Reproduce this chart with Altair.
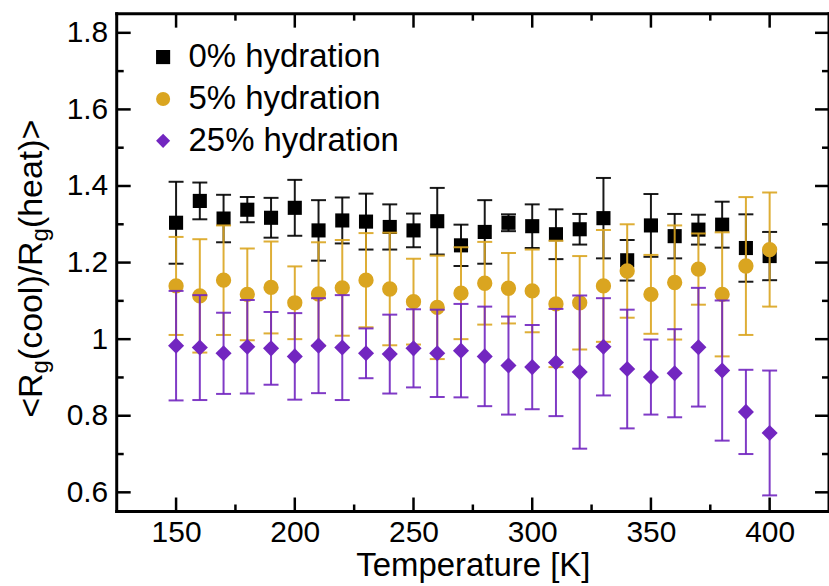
import altair as alt
import pandas as pd

# ---------------- data ----------------
temps = [150, 160, 170, 180, 190, 200, 210, 220, 230, 240, 250, 260, 270,
         280, 290, 300, 310, 320, 330, 340, 350, 360, 370, 380, 390, 400]

h0_mean = [1.304, 1.361, 1.315, 1.338, 1.317, 1.343, 1.284, 1.310, 1.307, 1.293,
           1.284, 1.308, 1.245, 1.280, 1.304, 1.295, 1.274, 1.287, 1.316, 1.206,
           1.297, 1.269, 1.286, 1.299, 1.238, 1.217]
h0_err = [0.107, 0.048, 0.062, 0.033, 0.052, 0.073, 0.079, 0.060, 0.073, 0.059,
          0.044, 0.087, 0.054, 0.083, 0.022, 0.057, 0.065, 0.040, 0.105, 0.053,
          0.082, 0.058, 0.039, 0.060, 0.088, 0.063]

h5_mean = [1.139, 1.113, 1.154, 1.117, 1.135, 1.095, 1.118, 1.134, 1.154, 1.131,
           1.098, 1.083, 1.120, 1.146, 1.133, 1.126, 1.092, 1.095, 1.139, 1.178,
           1.117, 1.148, 1.183, 1.117, 1.191, 1.234]
h5_err = [0.128, 0.148, 0.143, 0.120, 0.120, 0.095, 0.135, 0.125, 0.123, 0.147,
          0.112, 0.135, 0.120, 0.108, 0.092, 0.108, 0.165, 0.122, 0.146, 0.122,
          0.103, 0.149, 0.093, 0.162, 0.180, 0.149]

h25_mean = [0.983, 0.978, 0.963, 0.980, 0.976, 0.955, 0.983, 0.978, 0.963, 0.961,
            0.976, 0.963, 0.970, 0.955, 0.931, 0.927, 0.939, 0.914, 0.980, 0.922,
            0.901, 0.911, 0.979, 0.918, 0.810, 0.755]
h25_err = [0.143, 0.137, 0.106, 0.122, 0.095, 0.113, 0.124, 0.137, 0.065, 0.103,
           0.102, 0.114, 0.122, 0.130, 0.128, 0.110, 0.140, 0.200, 0.127, 0.155,
           0.098, 0.115, 0.155, 0.183, 0.110, 0.163]

series_names = ["0% hydration", "5% hydration", "25% hydration"]
series_colors = ["#000000", "#DAA520", "#7226C0"]
series_shapes = ["square", "circle", "diamond"]
series_sizes = [200, 235, 260]

x_major = [150, 200, 250, 300, 350, 400]
x_minor = [175, 225, 275, 325, 375]
y_major = [0.6, 0.8, 1.0, 1.2, 1.4, 1.6, 1.8]
y_minor = [0.7, 0.9, 1.1, 1.3, 1.5, 1.7]

# ---------------- layout ----------------
W, H = 714, 499
FONT = "Liberation Sans"
x_scale = alt.Scale(domain=[125, 425], nice=False, zero=False)
y_scale = alt.Scale(domain=[0.55, 1.85], nice=False, zero=False)

def make_df(mean, err, name):
    return pd.DataFrame({
        "T": temps,
        "mean": mean,
        "lo": [m - e for m, e in zip(mean, err)],
        "hi": [m + e for m, e in zip(mean, err)],
        "series": name,
    })

dfs = [make_df(h0_mean, h0_err, series_names[0]),
       make_df(h5_mean, h5_err, series_names[1]),
       make_df(h25_mean, h25_err, series_names[2])]

X = alt.X("T:Q", scale=x_scale,
          axis=alt.Axis(values=x_major, ticks=False, domain=False, grid=False,
                        labelFontSize=30, labelFont=FONT, labelPadding=6,
                        labelColor="black", title="Temperature [K]",
                        titleFont=FONT, titleFontSize=33, titleFontWeight="normal",
                        titleColor="black", titlePadding=2))

legend = alt.Legend(title=None, orient="none", legendX=30, legendY=27,
                    labelFontSize=33, labelFont=FONT, labelColor="black",
                    labelLimit=0,
                    symbolSize=200, symbolStrokeWidth=0, labelOffset=9,
                    rowPadding=8, padding=0)

layers = []
for df, name, col, shp, sz in zip(dfs, series_names, series_colors,
                                  series_shapes, series_sizes):
    base = alt.Chart(df)
    rule = base.mark_rule(strokeWidth=2, opacity=0.9).encode(
        x=X,
        y=alt.Y("lo:Q", scale=y_scale,
                axis=alt.Axis(values=y_major, format=".2~f", ticks=False,
                              domain=False, grid=False, labelFontSize=30,
                              labelFont=FONT, labelColor="black",
                              labelPadding=9, title=None)),
        y2="hi:Q",
        color=alt.value(col),
    )
    cap_hi = base.mark_tick(orient="horizontal", size=15, thickness=2,
                            opacity=0.9).encode(
        x="T:Q", y="hi:Q", color=alt.value(col))
    cap_lo = base.mark_tick(orient="horizontal", size=15, thickness=2,
                            opacity=0.9).encode(
        x="T:Q", y="lo:Q", color=alt.value(col))
    pts = base.mark_point(filled=True, opacity=1, size=sz, strokeWidth=0).encode(
        x="T:Q", y="mean:Q",
        color=alt.Color("series:N",
                        scale=alt.Scale(domain=series_names, range=series_colors),
                        legend=legend),
        shape=alt.Shape("series:N",
                        scale=alt.Scale(domain=series_names, range=series_shapes),
                        legend=legend),
    )
    layers += [rule, cap_hi, cap_lo, pts]

# ---------------- inward ticks on all four sides ----------------
def xticks(vals, length):
    d = alt.Chart(pd.DataFrame({"v": vals}))
    bot = d.mark_rule(color="black", strokeWidth=2.5).encode(
        x="v:Q", y=alt.value(H), y2=alt.value(H - length))
    top = d.mark_rule(color="black", strokeWidth=2.5).encode(
        x="v:Q", y=alt.value(0), y2=alt.value(length))
    return [bot, top]

def yticks(vals, length):
    d = alt.Chart(pd.DataFrame({"v": vals}))
    left = d.mark_rule(color="black", strokeWidth=2.5).encode(
        y="v:Q", x=alt.value(0), x2=alt.value(length))
    right = d.mark_rule(color="black", strokeWidth=2.5).encode(
        y="v:Q", x=alt.value(W), x2=alt.value(W - length))
    return [left, right]

tick_layers = xticks(x_major, 14) + xticks(x_minor, 7) + \
    yticks(y_major, 14) + yticks(y_minor, 7)

# ---------------- frame ----------------
frame_src = alt.Chart(pd.DataFrame({"k": [0]}))
frame = [
    frame_src.mark_rule(color="black", strokeWidth=3).encode(
        x=alt.value(-1.5), x2=alt.value(W + 1.5), y=alt.value(0)),
    frame_src.mark_rule(color="black", strokeWidth=3).encode(
        x=alt.value(-1.5), x2=alt.value(W + 1.5), y=alt.value(H)),
    frame_src.mark_rule(color="black", strokeWidth=3).encode(
        x=alt.value(0), y=alt.value(-1.5), y2=alt.value(H + 1.5)),
    frame_src.mark_rule(color="black", strokeWidth=3).encode(
        x=alt.value(W), y=alt.value(-1.5), y2=alt.value(H + 1.5)),
]

# ---------------- y title with subscripts ----------------
char_w = {"<": 0.584, "R": 0.722, "g": 0.556, "(": 0.333, "c": 0.5, "o": 0.556,
          "l": 0.222, ")": 0.333, "/": 0.278, "h": 0.556, "e": 0.556,
          "a": 0.556, "t": 0.278, ">": 0.584}
MAIN_FS, SUB_FS = 34, 24
segments = [("<R", False), ("g", True), ("(cool)/R", False), ("g", True),
            ("(heat)>", False)]
title_layers = []
pos = 405
for txt, is_sub in segments:
    fs = SUB_FS if is_sub else MAIN_FS
    w = sum(char_w[c] for c in txt) * fs
    t = alt.Chart(pd.DataFrame({"s": [txt]})).mark_text(
        angle=270, align="left", baseline="alphabetic", font=FONT,
        fontSize=fs, color="black").encode(
        text="s:N",
        x=alt.value(-75 + (6 if is_sub else 0)),
        y=alt.value(pos))
    title_layers.append(t)
    pos -= w

chart = alt.layer(*layers, *tick_layers, *frame, *title_layers).properties(
    width=W, height=H,
    padding={"left": 117, "top": 13, "right": 0, "bottom": 74},
    autosize=alt.AutoSizeParams(type="none"),
).configure_view(stroke=None).configure(background="white")

chart.save("out.html", embed_options={"renderer": "svg", "actions": False})
